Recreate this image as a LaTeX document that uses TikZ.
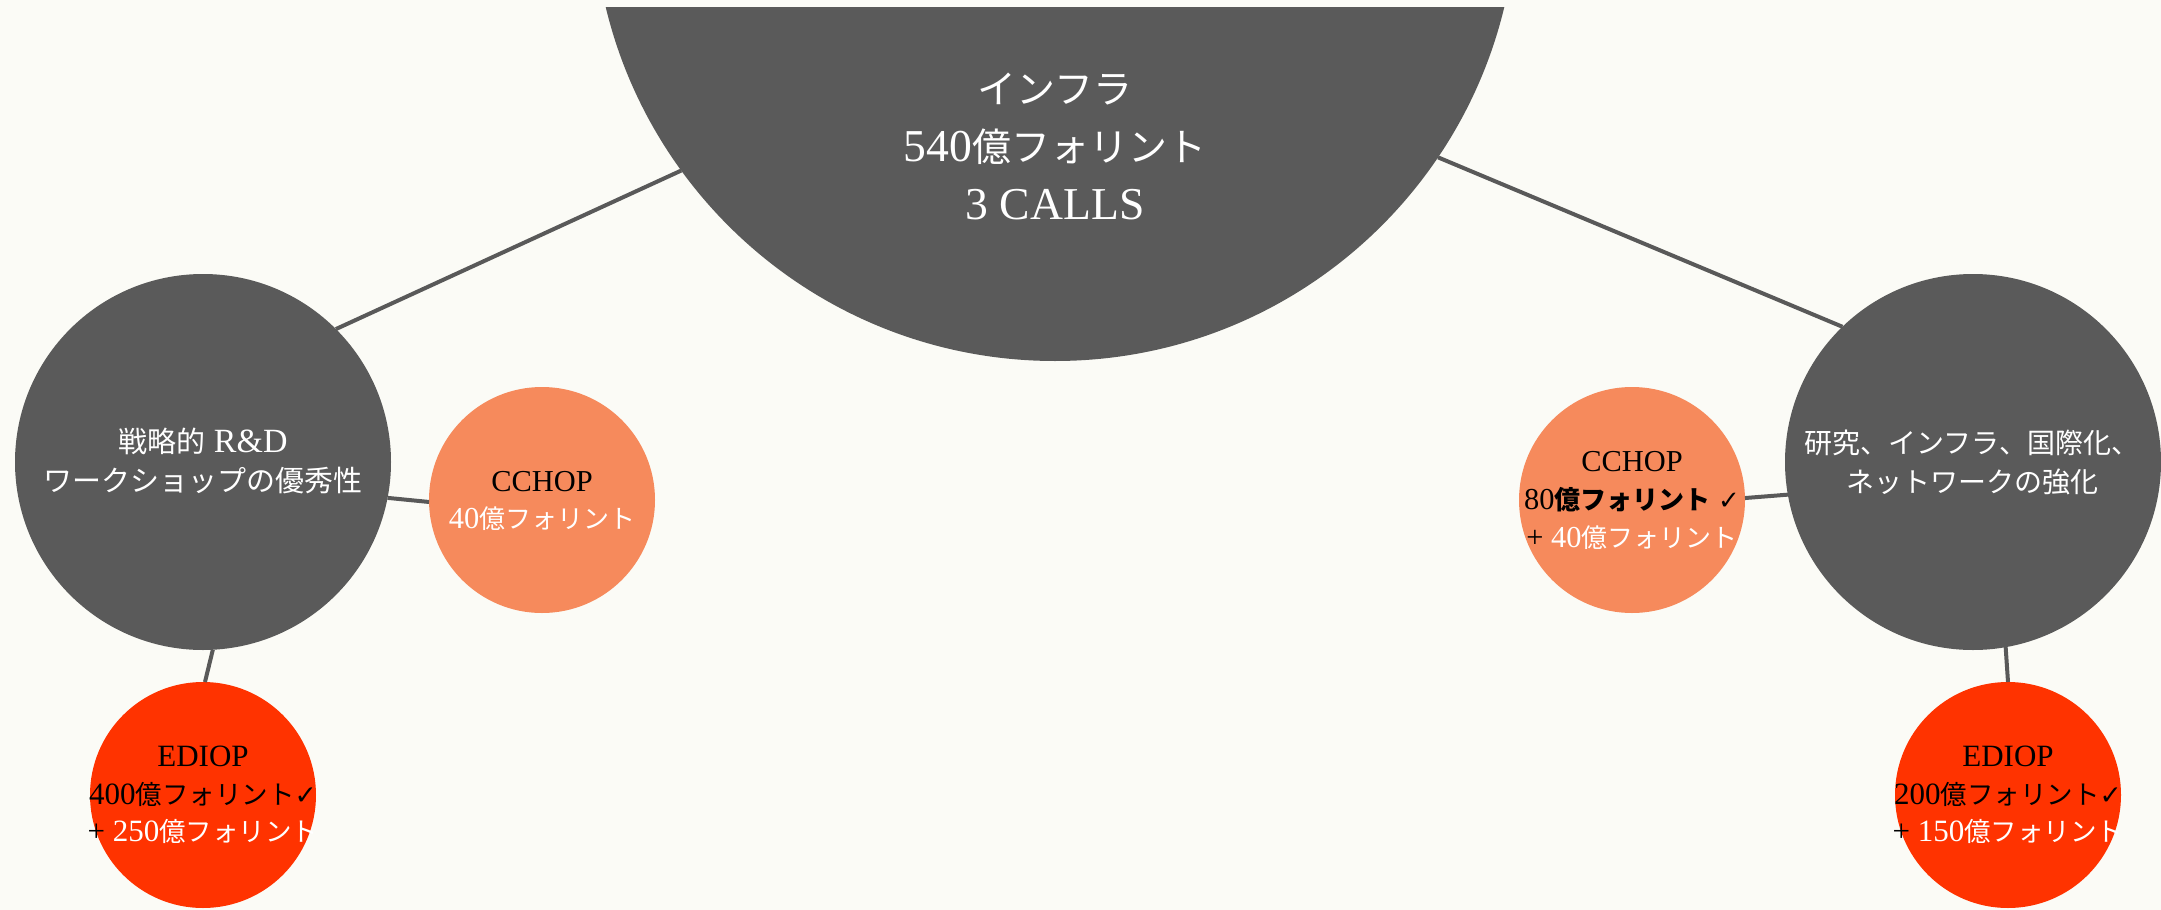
\documentclass[tikz,border=0pt]{standalone}
\usepackage{fontspec}
\setmainfont{Liberation Serif}[Scale=1.17]
\newfontfamily\jp{Noto Sans CJK JP}
\newfontfamily\symf{DejaVu Sans}
\definecolor{bgc}{HTML}{FBFBF6}
\definecolor{dgray}{HTML}{5A5A5A}
\definecolor{lgray}{HTML}{595959}
\definecolor{corange}{HTML}{F68A5C}
\definecolor{cred}{HTML}{FF3300}
\begin{document}
\begin{tikzpicture}[x=1pt,y=-1pt,
  bubble/.style={circle,inner sep=0pt,outer sep=0pt,minimum size=#1},
  grayb/.style={bubble=#1,fill=dgray},
  orangeb/.style={bubble=#1,fill=corange},
  redb/.style={bubble=#1,fill=cred},
  conn/.style={draw=lgray,line width=4pt},
  txt/.style={align=center,inner sep=0pt},
  fs/.style 2 args={font=\fontsize{#1}{#2}\selectfont}]
\useasboundingbox (0,0) rectangle (2161,910);
\fill[bgc] (0,0) rectangle (2161,910);
% top half-circle
\begin{scope}
  \clip (0,7) rectangle (2161,910);
  \node[grayb=924pt] (top) at (1055,-101) {};
\end{scope}
% circles
\node[grayb=376pt] (L) at (203,462) {};
\node[orangeb=226pt] (LC) at (542,500) {};
\node[redb=226pt] (LE) at (203,795) {};
\node[grayb=376pt] (R) at (1973,462) {};
\node[orangeb=226pt] (RC) at (1632,500) {};
\node[redb=226pt] (RE) at (2008,795) {};
% connectors
\draw[conn] (top.216.6) -- (L.45);
\draw[conn] (top.-34.7) -- (R.134.6);
\draw[conn] (L.-11.5) -- (LC.181);
\draw[conn] (L.-87.2) -- (LE.89.5);
\draw[conn] (R.190.2) -- (RC.1);
\draw[conn] (R.-80.8) -- (RE.90);
% texts
\node[txt,fs={39}{58},text=white] (topt) at (1055,146)
  {{\jp インフラ}\\540{\jp 億フォリント}\\3 CALLS};
\node[txt,fs={29}{39},text=white] (Lt) at (203,461)
  {{\jp 戦略的} R\&D\\{\jp ワークショップの優秀性}};
\node[txt,fs={28}{39},text=white] (Rt) at (1972,462)
  {{\jp 研究、インフラ、国際化、}\\{\jp ネットワークの強化}};
\node[txt,fs={26}{37},text=black] (LCt) at (542,501)
  {CCHOP\\{\color{white}40{\jp 億フォリント}}};
\node[txt,fs={26}{38},text=black] (RCt) at (1632,500)
  {CCHOP\\80{\jp\bfseries 億フォリント} {\symf ✓}\\+ {\color{white}40{\jp 億フォリント}}};
\node[txt,fs={26.5}{37.5},text=black] (LEt) at (203,795)
  {EDIOP\\400{\jp 億フォリント}{\symf ✓}\\+ {\color{white}250{\jp 億フォリント}}};
\node[txt,fs={26.5}{37.5},text=black] (REt) at (2008,795)
  {EDIOP\\200{\jp 億フォリント}{\symf ✓}\\+ {\color{white}150{\jp 億フォリント}}};
\end{tikzpicture}
\end{document}
